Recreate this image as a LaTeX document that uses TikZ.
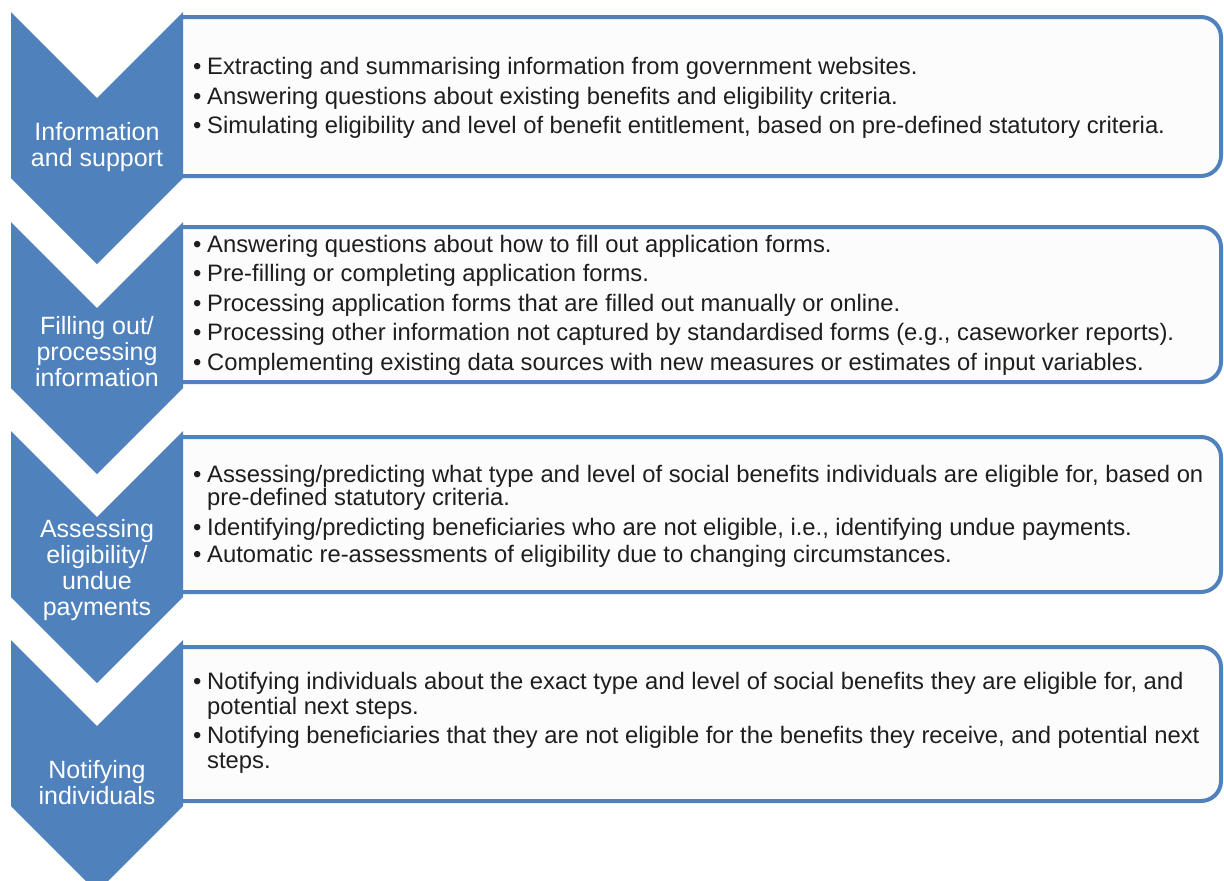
\documentclass[tikz,border=0pt]{standalone}
\usepackage{fontspec}
\setmainfont{Liberation Sans}
\usepackage{tikz}
\definecolor{stepblue}{HTML}{4F81BD}
\definecolor{panelfill}{HTML}{FCFCFC}
\definecolor{itemtext}{HTML}{1E1E1E}
\newcommand{\bul}{\makebox[14pt][l]{\textbullet}}
\newcommand{\hang}{\hspace*{14pt}}

\begin{document}
\begin{tikzpicture}[x=1pt, y=-1pt,
	chevron/.style={fill=stepblue},
	panel/.style={draw=stepblue, line width=4pt, fill=panelfill, rounded corners=20pt},
	steplabel/.style={text=white, align=center, inner sep=0pt, font=\fontsize{25}{26}\selectfont},
	items/.style={text=itemtext, align=left, anchor=west, inner sep=0pt, font=\fontsize{23.8}{29.5}\selectfont}]
	\clip (0,0) rectangle (1224,881);
	\fill[white] (0,0) rectangle (1224,881);

	\draw[panel] (183,17) -- (1221,17) -- (1221,176) -- (183,176);
	\draw[panel] (183,227) -- (1221,227) -- (1221,382) -- (183,382);
	\draw[panel] (183,437) -- (1221,437) -- (1221,592) -- (183,592);
	\draw[panel] (183,647) -- (1221,647) -- (1221,801) -- (183,801);

	\fill[chevron] (11,12) -- (97,98) -- (183,12) -- (183,178) -- (97,264) -- (11,178) -- cycle;
	\fill[chevron] (11,222) -- (97,308) -- (183,222) -- (183,388) -- (97,474) -- (11,388) -- cycle;
	\fill[chevron] (11,431) -- (97,517) -- (183,431) -- (183,597) -- (97,683) -- (11,597) -- cycle;
	\fill[chevron] (11,640) -- (97,726) -- (183,640) -- (183,806) -- (97,892) -- (11,806) -- cycle;

	\node [steplabel] (info) at (97,147) {Information\\and support};
	\node [steplabel] (filling) at (97,352) {Filling out/\\processing\\information};
	\node [steplabel] (assessing) at (97,570) {Assessing\\eligibility/\\undue\\payments};
	\node [steplabel] (notifying) at (97,783) {Notifying\\individuals};

	\node [items] (infotext) at (193,98) {%
		\bul Extracting and summarising information from government websites.\\
		\bul Answering questions about existing benefits and eligibility criteria.\\
		\bul Simulating eligibility and level of benefit entitlement, based on pre-defined statutory criteria.};
	\node [items] (fillingtext) at (193,305) {%
		\bul Answering questions about how to fill out application forms.\\
		\bul Pre-filling or completing application forms.\\
		\bul Processing application forms that are filled out manually or online.\\
		\bul Processing other information not captured by standardised forms (e.g., caseworker reports).\\
		\bul Complementing existing data sources with new measures or estimates of input variables.};
	\node [items] (assessingtext) at (193,516) {%
		\bul Assessing/predicting what type and level of social benefits individuals are eligible for, based on\\[-6pt]
		\hang pre-defined statutory criteria.\\
		\bul Identifying/predicting beneficiaries who are not eligible, i.e., identifying undue payments.\\[-2.5pt]
		\bul Automatic re-assessments of eligibility due to changing circumstances.};
	\node [items] (notifyingtext) at (193,723) {%
		\bul Notifying individuals about the exact type and level of social benefits they are eligible for, and\\[-4.5pt]
		\hang potential next steps.\\
		\bul Notifying beneficiaries that they are not eligible for the benefits they receive, and potential next\\[-4.5pt]
		\hang steps.};
\end{tikzpicture}
\end{document}
